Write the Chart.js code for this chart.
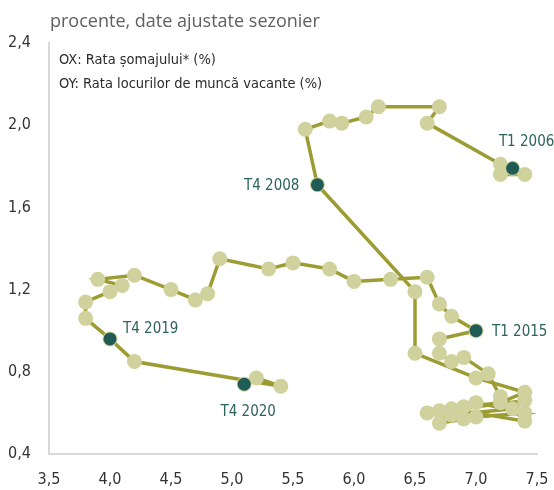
<!DOCTYPE html>
<html>
<head>
<meta charset="utf-8">
<script src="https://cdn.jsdelivr.net/npm/chart.js@4.4.1/dist/chart.umd.min.js"></script>
<style>
  html, body { margin: 0; padding: 0; background: #ffffff; }
  #wrap { position: relative; width: 554px; height: 490px; }
  canvas { display: block; }
</style>
</head>
<body>
<div id="wrap"><canvas id="c" width="554" height="490"></canvas></div>
<script>
// ---------- DATA ----------
const quarters = [
  'T1 2006','T2 2006','T3 2006','T4 2006',
  'T1 2007','T2 2007','T3 2007','T4 2007',
  'T1 2008','T2 2008','T3 2008','T4 2008',
  'T1 2009','T2 2009','T3 2009','T4 2009',
  'T1 2010','T2 2010','T3 2010','T4 2010',
  'T1 2011','T2 2011','T3 2011','T4 2011',
  'T1 2012','T2 2012','T3 2012','T4 2012',
  'T1 2013','T2 2013','T3 2013','T4 2013',
  'T1 2014','T2 2014','T3 2014','T4 2014',
  'T1 2015','T2 2015','T3 2015','T4 2015',
  'T1 2016','T2 2016','T3 2016','T4 2016',
  'T1 2017','T2 2017','T3 2017','T4 2017',
  'T1 2018','T2 2018','T3 2018','T4 2018',
  'T1 2019','T2 2019','T3 2019','T4 2019',
  'T1 2020','T2 2020','T3 2020','T4 2020'
];
// OX: unemployment rate (%)
const unemployment = [
  7.30, 7.40, 7.20, 7.20,
  6.60, 6.70, 6.20, 6.10,
  5.90, 5.80, 5.60, 5.70,
  6.50, 6.50, 7.00, 7.40,
  7.20, 6.90, 6.60, 7.40,
  7.30, 6.80, 6.70, 7.00,
  7.40, 7.00, 6.90, 6.70,
  6.80, 7.40, 7.20, 7.10,
  6.90, 6.80, 6.70, 6.70,
  7.00, 6.80, 6.70, 6.60,
  6.30, 6.00, 5.80, 5.50,
  5.30, 4.90, 4.80, 4.70,
  4.50, 4.20, 3.90, 4.10,
  4.00, 3.80, 3.80, 4.00,
  4.20, 5.40, 5.20, 5.10
];
// OY: job vacancy rate (%)
const vacancies = [
  1.79, 1.76, 1.76, 1.81,
  2.01, 2.09, 2.09, 2.04,
  2.01, 2.02, 1.98, 1.71,
  1.19, 0.89, 0.77, 0.70,
  0.65, 0.63, 0.60, 0.66,
  0.62, 0.59, 0.61, 0.65,
  0.60, 0.58, 0.57, 0.55,
  0.62, 0.56, 0.68, 0.79,
  0.87, 0.85, 0.89, 0.96,
  1.00, 1.07, 1.13, 1.26,
  1.25, 1.24, 1.30, 1.33,
  1.30, 1.35, 1.18, 1.15,
  1.20, 1.27, 1.25, 1.22,
  1.19, 1.14, 1.06, 0.96,
  0.85, 0.73, 0.77, 0.74
];
const highlighted = ['T1 2006', 'T4 2008', 'T1 2015', 'T4 2019', 'T4 2020'];
const xTickValues = [3.5, 4.0, 4.5, 5.0, 5.5, 6.0, 6.5, 7.0, 7.5];
const xTickLabels = ['3,5', '4,0', '4,5', '5,0', '5,5', '6,0', '6,5', '7,0', '7,5'];
const yTickValues = [0.4, 0.8, 1.2, 1.6, 2.0, 2.4];
const yTickLabels = ['0,4', '0,8', '1,2', '1,6', '2,0', '2,4'];
const titleText = 'procente, date ajustate sezonier';
const legendLines = ['OX: Rata șomajului* (%)', 'OY: Rata locurilor de muncă vacante (%)'];

// ---------- STYLE ----------
const NARROW = "'Liberation Sans Narrow', 'DejaVu Sans Condensed', sans-serif";
const LINE_COLOR = '#9c9c33';
const LIGHT_PT = '#d0d29d';
const DARK_PT = '#215b55';
const LABEL_COLOR = '#2d625d';

// label placement (pixel offsets from the marker)
const labelPlacement = {
  'T1 2006': { dx: 14, dy: -26, align: 'center' },
  'T4 2008': { dx: -18, dy: 1, align: 'right' },
  'T1 2015': { dx: 16, dy: 1, align: 'left' },
  'T4 2019': { dx: 13, dy: -10, align: 'left' },
  'T4 2020': { dx: 4, dy: 28, align: 'center' }
};

const pathData = quarters.map((q, i) => ({ x: unemployment[i], y: vacancies[i] }));
const hiIdx = highlighted.map(h => quarters.indexOf(h));
const hiData = hiIdx.map(i => ({ x: unemployment[i], y: vacancies[i] }));

const overlayPlugin = {
  id: 'overlay',
  afterDraw(chart) {
    const ctx = chart.ctx;
    ctx.save();
    // title
    ctx.font = "18px 'Open Sans', 'Noto Sans', sans-serif";
    ctx.fillStyle = '#606060';
    ctx.textAlign = 'left';
    ctx.textBaseline = 'alphabetic';
    ctx.fillText(titleText, 50, 27);
    // legend text
    ctx.font = "14.5px " + NARROW;
    ctx.fillStyle = '#2b2b2b';
    ctx.textBaseline = 'middle';
    ctx.fillText(legendLines[0], 59, 60);
    ctx.fillText(legendLines[1], 59, 84);
    // point labels
    const meta = chart.getDatasetMeta(1);
    ctx.font = "15px " + NARROW;
    ctx.fillStyle = LABEL_COLOR;
    meta.data.forEach((el, k) => {
      const name = highlighted[k];
      const p = labelPlacement[name];
      ctx.textAlign = p.align;
      ctx.textBaseline = 'middle';
      ctx.fillText(name, el.x + p.dx, el.y + p.dy);
    });
    ctx.restore();
  }
};

new Chart(document.getElementById('c'), {
  type: 'scatter',
  data: {
    datasets: [
      {
        data: pathData,
        showLine: true,
        borderColor: LINE_COLOR,
        borderWidth: 3.5,
        pointRadius: 7.5,
        pointBackgroundColor: LIGHT_PT,
        pointBorderWidth: 0,
        pointBorderColor: LIGHT_PT,
        tension: 0,
        clip: false,
        order: 2
      },
      {
        data: hiData,
        showLine: false,
        pointRadius: 6.5,
        pointBackgroundColor: DARK_PT,
        pointBorderWidth: 0,
        pointBorderColor: DARK_PT,
        clip: false,
        order: 1
      }
    ]
  },
  options: {
    responsive: false,
    animation: false,
    events: [],
    layout: { padding: { top: 43, right: 17, left: 0, bottom: 0 } },
    plugins: { legend: { display: false }, tooltip: { enabled: false }, title: { display: false } },
    scales: {
      x: {
        type: 'linear',
        min: 3.5, max: 7.5,
        afterFit(s) { s.height = 36; s.paddingLeft = 0; s.paddingRight = 0; },
        afterBuildTicks(s) { s.ticks = xTickValues.map(v => ({ value: v })); },
        ticks: {
          padding: 16,
          color: '#333333',
          font: { family: NARROW, size: 16 },
          callback(v) { const i = xTickValues.findIndex(t => Math.abs(t - v) < 1e-6); return i >= 0 ? xTickLabels[i] : ''; }
        },
        grid: { display: false, drawTicks: false },
        border: { display: true, color: '#d9d9d9', width: 2 }
      },
      y: {
        type: 'linear',
        min: 0.4, max: 2.4,
        afterFit(s) { s.width = 49; s.paddingTop = 0; s.paddingBottom = 0; },
        afterBuildTicks(s) { s.ticks = yTickValues.map(v => ({ value: v })); },
        ticks: {
          padding: 18,
          color: '#333333',
          font: { family: NARROW, size: 16 },
          callback(v) { const i = yTickValues.findIndex(t => Math.abs(t - v) < 1e-6); return i >= 0 ? yTickLabels[i] : ''; }
        },
        grid: { display: false, drawTicks: false },
        border: { display: true, color: '#d9d9d9', width: 2 }
      }
    }
  },
  plugins: [overlayPlugin]
});
</script>
</body>
</html>
